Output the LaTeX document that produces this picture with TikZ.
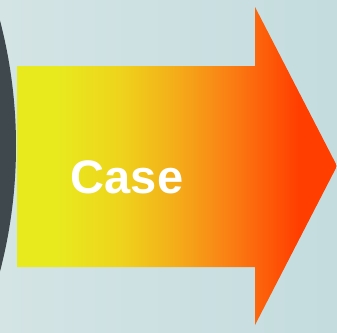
\documentclass[tikz,border=0pt]{standalone}
\usepackage{fontspec}
\setmainfont{Liberation Sans}
\definecolor{arrowyellow}{RGB}{232,234,30}
\definecolor{arrowgold}{RGB}{238,212,28}
\definecolor{arrowamber}{RGB}{244,172,25}
\definecolor{arroworange}{RGB}{250,128,20}
\definecolor{arrowred}{RGB}{255,62,0}
\pgfdeclarehorizontalshading{arrowfade}{100bp}{color(0bp)=(arrowyellow); color(25bp)=(arrowyellow); color(31bp)=(arrowyellow); color(41bp)=(arrowgold); color(50bp)=(arrowamber); color(58bp)=(arroworange); color(69bp)=(arrowred); color(75bp)=(arrowred); color(100bp)=(arrowred)}
\begin{document}
\begin{tikzpicture}[x=1pt, y=-1pt]
\definecolor{bgleft}{RGB}{212,228,229}
\definecolor{bgright}{RGB}{196,220,222}
\definecolor{discdark}{RGB}{62,72,77}
\useasboundingbox (0,0) rectangle (337,332);
\shade[left color=bgleft, right color=bgright] (0,0) rectangle (337,332);
% dark disc at the left edge
\begin{scope}
\clip (0,0) rectangle (337,332);
\fill[discdark] (-480,146) circle[radius=496];
\end{scope}
% arrow
\shade[shading=arrowfade] (17,66) -- (255,66) -- (255,7) -- (337,166) -- (255,325) -- (255,267) -- (17,267) -- cycle;
\node[anchor=base, text=white, font=\fontsize{47}{47}\selectfont\bfseries, inner sep=0pt] (case) at (127,193) {Case};
\end{tikzpicture}
\end{document}
